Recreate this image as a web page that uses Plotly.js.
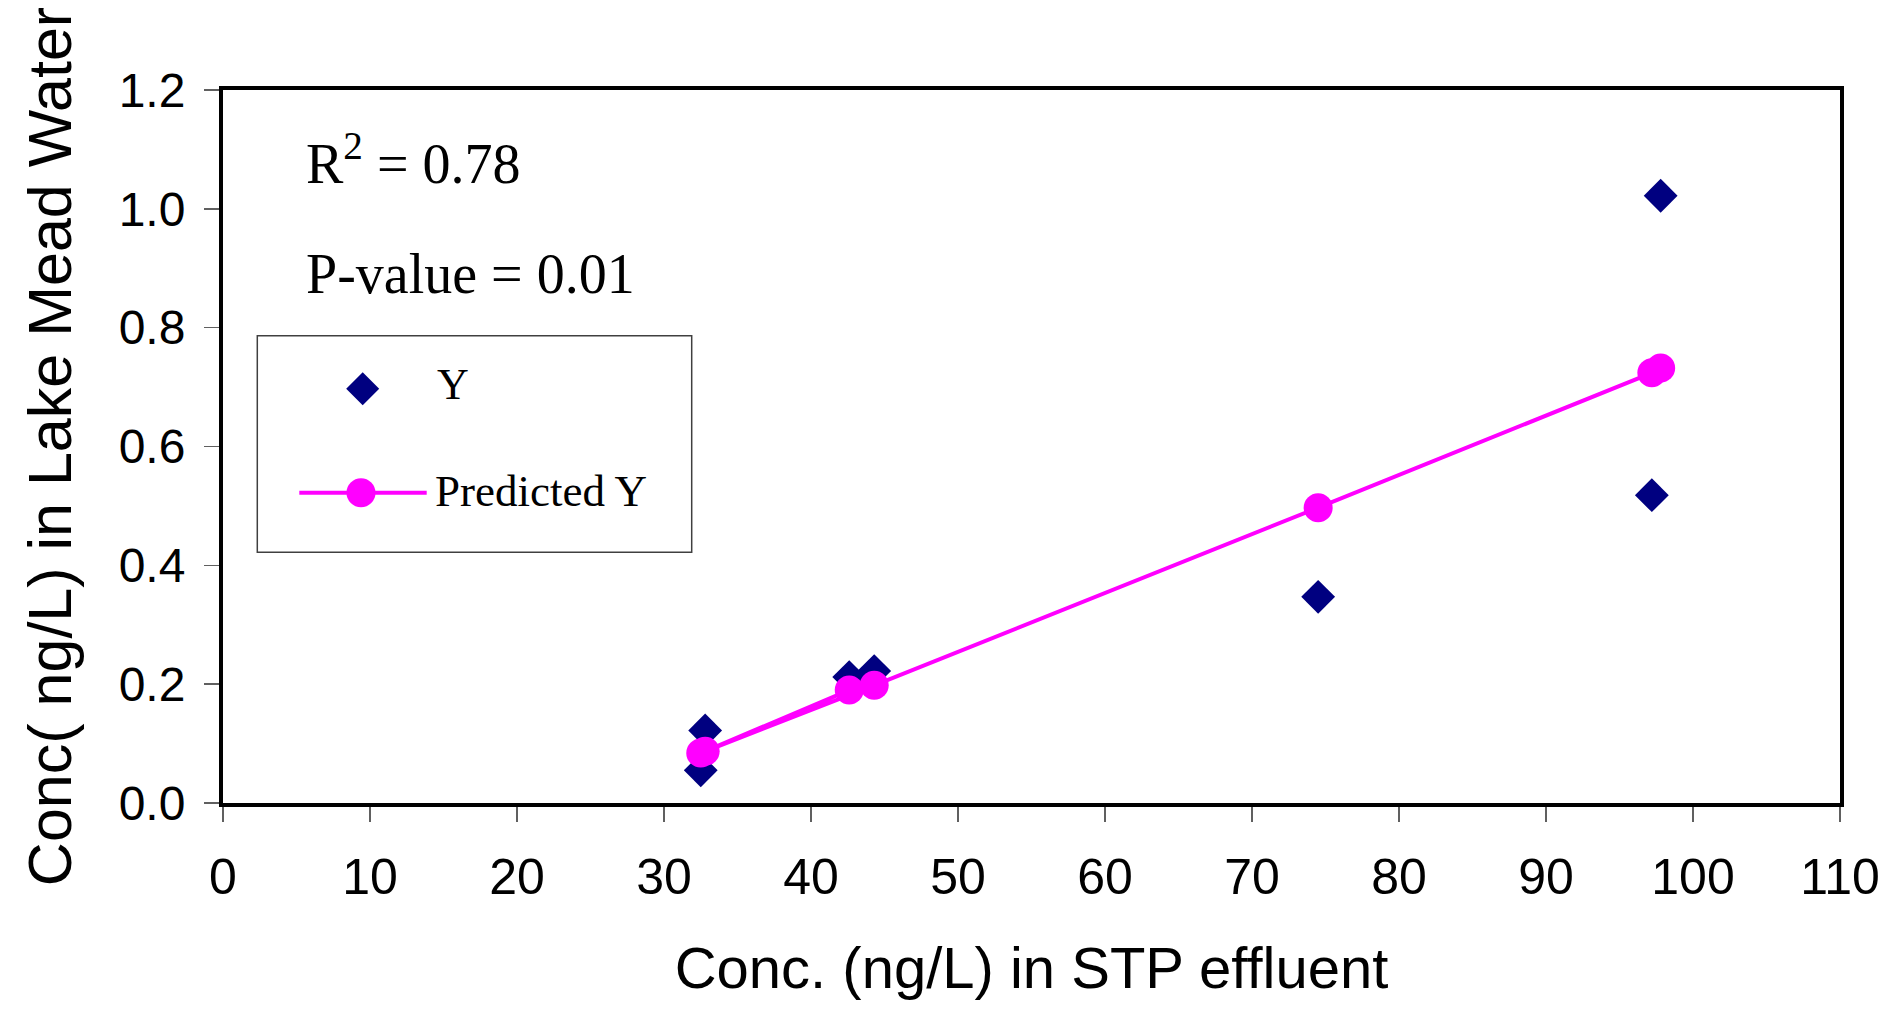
<!DOCTYPE html>
<html>
<head>
<meta charset="utf-8">
<script src="https://cdn.plot.ly/plotly-3.0.1.min.js"></script>
<style>
  html, body { margin: 0; padding: 0; background: #ffffff; }
  #chart { width: 1902px; height: 1013px; }
</style>
</head>
<body>
<div id="chart"></div>
<script>
// ---- data ----
const stpConc      = [32.5, 42.6, 32.8, 44.3, 74.5, 97.2, 97.8];      // x: Conc. in STP effluent
const observedY    = [0.055, 0.212, 0.122, 0.222, 0.347, 0.518, 1.022]; // Y
const predictedY   = [0.084, 0.190, 0.087, 0.198, 0.497, 0.724, 0.732]; // Predicted Y
const xTickVals    = [0, 10, 20, 30, 40, 50, 60, 70, 80, 90, 100, 110];
const yTickVals    = [0, 0.2, 0.4, 0.6, 0.8, 1.0, 1.2];
const seriesNames  = ['Y', 'Predicted Y'];
const statsText    = ['R<sup>2</sup> = 0.78', 'P-value = 0.01'];
const xTitle       = 'Conc. (ng/L) in STP effluent';
const yTitle       = 'Conc( ng/L) in Lake Mead Water';

const NAVY = '#000080', MAGENTA = '#FF00FF';
const SANS = 'Liberation Sans, Arial, sans-serif';
const SERIF = 'Liberation Serif, Times New Roman, serif';

const traces = [
  {
    x: stpConc, y: observedY, name: seriesNames[0],
    type: 'scatter', mode: 'markers',
    marker: { symbol: 'diamond', size: 26, color: NAVY, line: { width: 0 } },
    showlegend: false
  },
  {
    x: stpConc, y: predictedY, name: seriesNames[1],
    type: 'scatter', mode: 'lines+markers',
    line: { color: MAGENTA, width: 4 },
    marker: { symbol: 'circle', size: 29, color: MAGENTA, line: { width: 0 } },
    showlegend: false
  }
];

// plot area: left 223, top 90, 1617 x 713 px
const PL = 223, PT = 90, PW = 1617, PH = 713, PB = PT + PH;
const px = v => (v - PL) / PW;
const py = v => (PB - v) / PH;

const layout = {
  width: 1902, height: 1013,
  margin: { l: PL, r: 1902 - PL - PW, t: PT, b: 1013 - PB },
  paper_bgcolor: '#ffffff', plot_bgcolor: '#ffffff',
  showlegend: false,
  xaxis: {
    range: [0, 110], tickvals: xTickVals, ticktext: xTickVals.map(String),
    showline: true, linewidth: 4, linecolor: '#000000', mirror: true,
    ticks: 'outside', ticklen: 15, tickwidth: 1.5, tickcolor: '#606060',
    showgrid: false, zeroline: false,
    tickfont: { family: SANS, size: 50, color: '#000000' },
    ticklabelstandoff: 12,
    title: { text: xTitle, font: { family: SANS, size: 58, color: '#000000' }, standoff: 44 },
    fixedrange: true
  },
  xaxis2: {
    overlaying: 'x', anchor: 'y', side: 'bottom',
    range: [0, 110], tickvals: xTickVals,
    ticks: 'inside', ticklen: 13, tickwidth: 1.5, tickcolor: '#606060',
    showticklabels: false, showline: false, showgrid: false, zeroline: false
  },
  yaxis: {
    range: [0, 1.2], tickvals: yTickVals, ticktext: yTickVals.map(v => v.toFixed(1)),
    showline: true, linewidth: 4, linecolor: '#000000', mirror: true,
    ticks: 'outside', ticklen: 15, tickwidth: 1.5, tickcolor: '#606060',
    showgrid: false, zeroline: false,
    tickfont: { family: SANS, size: 48, color: '#000000' },
    ticklabelstandoff: 9,
    title: { text: yTitle, font: { family: SANS, size: 61, color: '#000000' }, standoff: 28 },
    fixedrange: true
  },
  yaxis2: {
    overlaying: 'y', anchor: 'x', side: 'left',
    range: [0, 1.2], tickvals: yTickVals,
    ticks: 'inside', ticklen: 13, tickwidth: 1.5, tickcolor: '#606060',
    showticklabels: false, showline: false, showgrid: false, zeroline: false
  },
  annotations: [
    { text: statsText[0], xref: 'paper', yref: 'paper', x: px(304), y: py(197),
      xanchor: 'left', yanchor: 'bottom', showarrow: false,
      font: { family: SERIF, size: 56, color: '#000000' } },
    { text: statsText[1], xref: 'paper', yref: 'paper', x: px(304), y: py(307),
      xanchor: 'left', yanchor: 'bottom', showarrow: false,
      font: { family: SERIF, size: 56, color: '#000000' } },
    // legend labels
    { text: seriesNames[0], xref: 'paper', yref: 'paper', x: px(435), y: py(384.5),
      xanchor: 'left', yanchor: 'middle', showarrow: false,
      font: { family: SERIF, size: 44, color: '#000000' } },
    { text: seriesNames[1], xref: 'paper', yref: 'paper', x: px(433), y: py(490.8),
      xanchor: 'left', yanchor: 'middle', showarrow: false,
      font: { family: SERIF, size: 45, color: '#000000' } }
  ],
  shapes: [
    // legend frame
    { type: 'rect', xref: 'paper', yref: 'paper',
      x0: px(257.3), x1: px(691.7), y0: py(552.3), y1: py(335.7),
      line: { color: '#404040', width: 1.5 }, fillcolor: '#ffffff', layer: 'below' },
    // legend line sample for Predicted Y
    { type: 'line', xref: 'paper', yref: 'paper',
      x0: px(299.3), x1: px(426.7), y0: py(492.7), y1: py(492.7),
      line: { color: MAGENTA, width: 4 } },
    // legend circle marker
    { type: 'circle', xref: 'paper', yref: 'paper',
      xsizemode: 'pixel', ysizemode: 'pixel',
      xanchor: px(361), yanchor: py(492.7),
      x0: -14.5, x1: 14.5, y0: -14.5, y1: 14.5,
      line: { width: 0 }, fillcolor: MAGENTA },
    // legend diamond marker
    { type: 'path', xref: 'paper', yref: 'paper',
      xsizemode: 'pixel', ysizemode: 'pixel',
      xanchor: px(362.7), yanchor: py(388.7),
      path: 'M -16.5 0 L 0 16.5 L 16.5 0 L 0 -16.5 Z',
      line: { width: 0 }, fillcolor: NAVY }
  ]
};

Plotly.newPlot('chart', traces, layout, { displayModeBar: false, staticPlot: true });
</script>
</body>
</html>
